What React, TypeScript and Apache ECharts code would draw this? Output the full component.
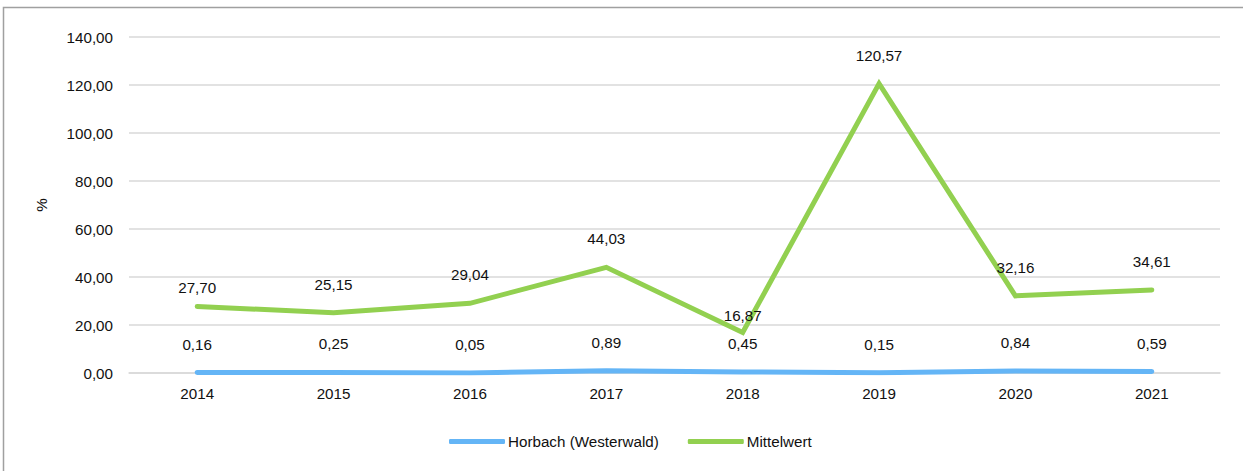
import React, { useEffect, useRef } from "react";
import * as echarts from "echarts";

const years = ["2014", "2015", "2016", "2017", "2018", "2019", "2020", "2021"];
const horbach = [0.16, 0.25, 0.05, 0.89, 0.45, 0.15, 0.84, 0.59];
const mittelwert = [27.7, 25.15, 29.04, 44.03, 16.87, 120.57, 32.16, 34.61];
const mittelLabelDistance = [11, 21, 21, 21, 9, 21, 21, 21];

const fmt = (v: number) => v.toFixed(2).replace(".", ",");
const FONT = "'Liberation Sans', Arial, sans-serif";
const TXT = "#111";
const FS = 15.2;

export default function App() {
  const ref = useRef<HTMLDivElement>(null);
  useEffect(() => {
    if (!ref.current) return;
    const chart = echarts.init(ref.current, undefined, { renderer: "svg" });
    chart.setOption({
      animation: false,
      backgroundColor: "#ffffff",
      textStyle: { fontFamily: FONT },
      graphic: [
        {
          type: "rect",
          shape: { x: 3.5, y: 7.5, width: 1300, height: 500 },
          style: { fill: "none", stroke: "#a0a0a0", lineWidth: 1.5 },
          silent: true,
        },
      ],
      grid: { left: 129, right: 23, top: 37, bottom: 98, containLabel: false },
      legend: {
        bottom: 17,
        left: 444,
        itemWidth: 56,
        itemHeight: 5,
        itemGap: 29,
        icon: "roundRect",
        textStyle: { fontSize: FS, color: TXT, fontFamily: FONT, padding: [0, 0, 0, -2] },
        data: ["Horbach (Westerwald)", "Mittelwert"],
      },
      xAxis: {
        type: "category",
        data: years,
        boundaryGap: true,
        axisLine: { show: true, lineStyle: { color: "#d9d9d9", width: 1.5 } },
        axisTick: { show: false },
        axisLabel: { fontSize: FS, color: TXT, margin: 13, fontFamily: FONT },
      },
      yAxis: {
        type: "value",
        min: 0,
        max: 140,
        interval: 20,
        name: "%",
        nameLocation: "middle",
        nameGap: 80,
        nameRotate: 90,
        nameTextStyle: { fontSize: FS, color: TXT, fontFamily: FONT },
        axisLine: { show: false },
        axisTick: { show: false },
        splitLine: { lineStyle: { color: "#d9d9d9", width: 1.5 } },
        axisLabel: {
          fontSize: FS,
          color: TXT,
          margin: 16,
          fontFamily: FONT,
          formatter: (v: number) => fmt(v),
        },
      },
      series: [
        {
          name: "Horbach (Westerwald)",
          type: "line",
          data: horbach,
          symbol: "circle",
          symbolSize: 0.1,
          showSymbol: true,
          lineStyle: { color: "#64B5F6", width: 5, cap: "round" },
          itemStyle: { color: "#64B5F6" },
          label: {
            show: true,
            position: "top",
            distance: 21,
            fontSize: FS,
            color: TXT,
            fontFamily: FONT,
            formatter: (p: any) => fmt(p.value),
          },
          z: 3,
        },
        {
          name: "Mittelwert",
          type: "line",
          data: mittelwert.map((v, i) => ({
            value: v,
            label: { distance: mittelLabelDistance[i] },
          })),
          symbol: "circle",
          symbolSize: 0.1,
          showSymbol: true,
          lineStyle: { color: "#92D050", width: 5, cap: "round", join: "miter" },
          itemStyle: { color: "#92D050" },
          label: {
            show: true,
            position: "top",
            distance: 21,
            fontSize: FS,
            color: TXT,
            fontFamily: FONT,
            formatter: (p: any) => fmt(p.value),
          },
          z: 2,
        },
      ],
    });
    return () => chart.dispose();
  }, []);
  return (
    <div
      ref={ref}
      style={{ position: "fixed", left: 0, top: 0, width: 1243, height: 471 }}
    />
  );
}
